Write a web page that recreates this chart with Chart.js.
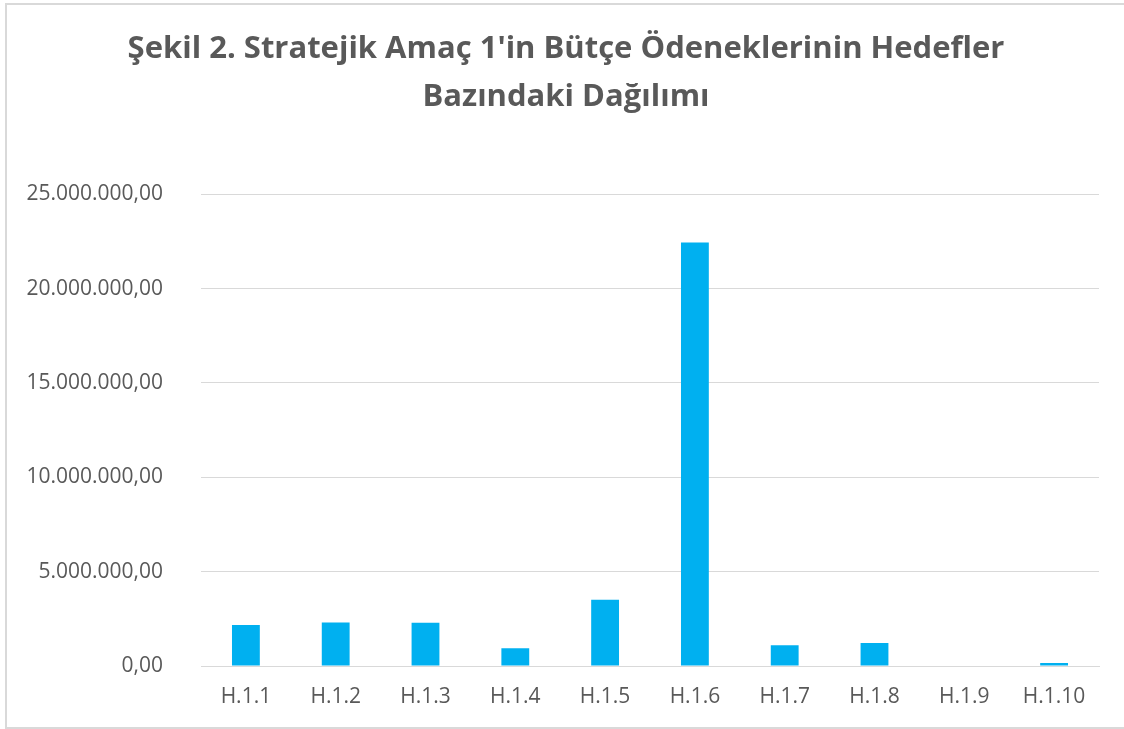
<!DOCTYPE html>
<html>
<head>
<meta charset="utf-8">
<script src="https://cdn.jsdelivr.net/npm/chart.js@4"></script>
<style>
html,body{margin:0;padding:0;background:#fff;}
#wrap{position:absolute;left:0;top:0;width:1124px;height:729px;}
#frame{position:absolute;left:5px;top:3px;width:1130px;height:722px;border:2px solid #d9d9d9;box-sizing:content-box;}
canvas{position:absolute;left:0;top:0;}
</style>
</head>
<body>
<div id="wrap">
<div id="frame"></div>
<canvas id="c" width="1124" height="729"></canvas>
</div>
<script>
const categories = ["H.1.1","H.1.2","H.1.3","H.1.4","H.1.5","H.1.6","H.1.7","H.1.8","H.1.9","H.1.10"];
const values = [2170000, 2310000, 2290000, 940000, 3510000, 22440000, 1100000, 1220000, 0, 160000];
const titleLines = ["Şekil 2. Stratejik Amaç 1'in Bütçe Ödeneklerinin Hedefler", "Bazındaki Dağılımı"];
const yMax = 25000000;
const yStep = 5000000;

function fmt(v){
  const s = Math.round(v).toString().replace(/\B(?=(\d{3})+(?!\d))/g, ".");
  return s + ",00";
}

const shiftTitle = {
  id: "shiftTitle",
  afterLayout(chart){
    const t = chart.titleBlock;
    if (t) { t.left = 33; t.right = 1099; }
  }
};

new Chart(document.getElementById("c"), {
  type: "bar",
  data: {
    labels: categories,
    datasets: [{
      data: values,
      backgroundColor: "#00b0f0",
      borderWidth: 0,
      categoryPercentage: 1,
      barPercentage: 0.31
    }]
  },
  plugins: [shiftTitle],
  options: {
    responsive: false,
    animation: false,
    layout: { padding: { left: 0, right: 25, top: 0, bottom: 0 } },
    plugins: {
      legend: { display: false },
      tooltip: { enabled: false },
      title: {
        display: true,
        text: titleLines,
        color: "#595959",
        font: { family: "'Open Sans'", size: 31, weight: "bold", lineHeight: 1.52 },
        padding: { top: 26, bottom: 74 }
      }
    },
    scales: {
      x: {
        grid: { display: false, drawTicks: false },
        border: { display: true, color: "#d9d9d9", width: 1 },
        ticks: { color: "#595959", font: { family: "'Open Sans'", size: 21 }, padding: 18, maxRotation: 0 },
        afterFit(scale){ scale.height = 63; }
      },
      y: {
        min: 0, max: yMax,
        ticks: { stepSize: yStep, color: "#595959", font: { family: "'Open Sans'", size: 21 }, padding: 38, callback: v => fmt(v) },
        grid: { color: "#d9d9d9", lineWidth: 1, drawTicks: false },
        border: { display: false },
        afterFit(scale){ scale.width = 201; }
      }
    }
  }
});
</script>
</body>
</html>
